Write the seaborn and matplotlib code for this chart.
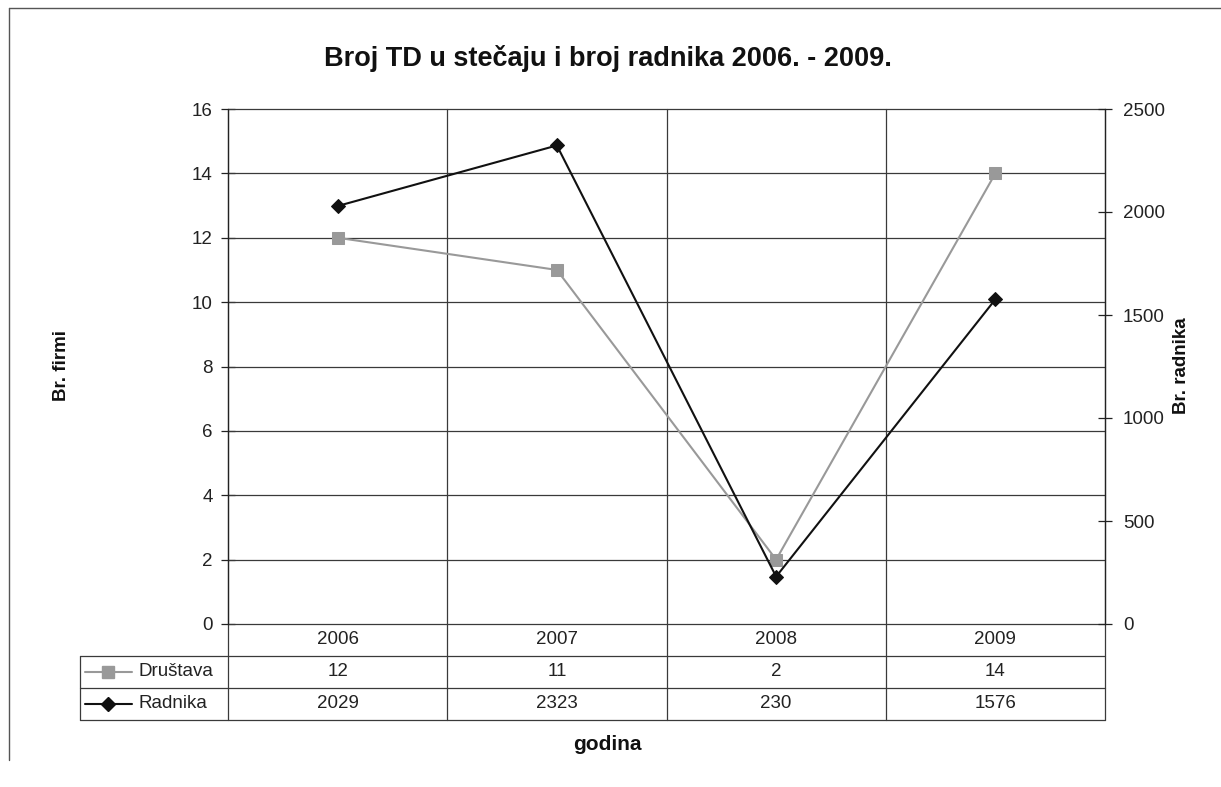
import matplotlib
matplotlib.use("Agg")
import matplotlib.pyplot as plt
from matplotlib.lines import Line2D
import seaborn as sns

# data
years = ["2006", "2007", "2008", "2009"]
drustava = [12, 11, 2, 14]
radnika = [2029, 2323, 230, 1576]
series_names = ["Društava", "Radnika"]

title = "Broj TD u stečaju i broj radnika 2006. - 2009."
left_label = "Br. firmi"
right_label = "Br. radnika"
x_label = "godina"

sns.set_theme(style="white")
plt.rcParams['font.family'] = ['Liberation Sans', 'DejaVu Sans']

W, H = 1221, 787
fig = plt.figure(figsize=(W / 100, H / 100), dpi=100)
fig.patch.set_facecolor("white")

# plot area in pixels
x0, x1, ytop, ybot = 228, 1105, 109, 624
ax = fig.add_axes([x0 / W, 1 - ybot / H, (x1 - x0) / W, (ybot - ytop) / H])
ax2 = ax.twinx()

grid_c = "#3a3a3a"
gray_c = "#999999"
txt_c = "#222222"
fs = 13.5
pos = list(range(len(years)))

sns.lineplot(x=pos, y=drustava, ax=ax, color=gray_c, lw=1.5, marker="s",
             markersize=9, markeredgecolor=gray_c, zorder=5)
sns.lineplot(x=pos, y=radnika, ax=ax2, color="#111111", lw=1.5, marker="D",
             markersize=7.5, markeredgecolor="#111111", zorder=5)

ax.set_xlim(-0.5, len(years) - 0.5)
ax.set_ylim(0, 16)
ax2.set_ylim(0, 2500)
ax.set_yticks(range(0, 17, 2))
ax2.set_yticks(range(0, 2501, 500))
ax.set_xticks([])
ax2.set_xticks([])

# grid
for v in range(0, 17, 2):
    ax.axhline(v, color=grid_c, lw=0.9, zorder=1, clip_on=False)
for b in range(len(years) + 1):
    ax.axvline(b - 0.5, color=grid_c, lw=0.9, zorder=1, clip_on=False)

for a in (ax, ax2):
    for s in a.spines.values():
        s.set_visible(False)
ax.spines["left"].set_visible(True)
ax.spines["left"].set_color(txt_c)
ax.spines["left"].set_linewidth(0.9)
ax2.spines["right"].set_visible(True)
ax2.spines["right"].set_color(txt_c)
ax2.spines["right"].set_linewidth(0.9)

ax.tick_params(axis="y", direction="inout", length=10, width=0.9, color=txt_c,
               labelsize=fs, labelcolor=txt_c, pad=6, left=True)
ax2.tick_params(axis="y", direction="inout", length=10, width=0.9, color=txt_c,
                labelsize=fs, labelcolor=txt_c, pad=8, right=True)

# data table below the plot
tr = ax.transAxes
row_h = 32 / (ybot - ytop)
tab_left = (80 - x0) / (x1 - x0)
line_kw = dict(transform=tr, color=grid_c, lw=0.9, clip_on=False)

# rows: header, Društava, Radnika
for i in range(1, 4):
    y = -i * row_h
    ax.add_line(Line2D([tab_left, 1], [y, y], **line_kw))
ax.add_line(Line2D([tab_left, tab_left], [-row_h, -3 * row_h], **line_kw))
for b in range(len(years) + 1):
    xb = b / len(years)
    ax.add_line(Line2D([xb, xb], [0, -3 * row_h], **line_kw))

for j, yr in enumerate(years):
    xc = (j + 0.5) / len(years)
    ax.text(xc, -0.5 * row_h, yr, transform=tr, ha="center", va="center",
            fontsize=fs, color=txt_c)
    ax.text(xc, -1.5 * row_h, str(drustava[j]), transform=tr, ha="center",
            va="center", fontsize=fs, color=txt_c)
    ax.text(xc, -2.5 * row_h, str(radnika[j]), transform=tr, ha="center",
            va="center", fontsize=fs, color=txt_c)

# legend keys inside the table
px = 1 / (x1 - x0)
for k, (name, col, mk, ms) in enumerate([(series_names[0], gray_c, "s", 9),
                                          (series_names[1], "#111111", "D", 7.5)]):
    y = -(1.5 + k) * row_h
    ax.add_line(Line2D([(85 - x0) * px, (132 - x0) * px], [y, y], transform=tr,
                       color=col, lw=1.5, clip_on=False))
    ax.add_line(Line2D([(108 - x0) * px], [y], transform=tr, color=col, marker=mk,
                       markersize=ms, markeredgecolor=col, clip_on=False))
    ax.text((138 - x0) * px, y, name, transform=tr, ha="left", va="center",
            fontsize=fs, color=txt_c)

# titles and axis labels
fig.text(608 / W, 1 - 58 / H, title, ha="center", va="center", fontsize=19.5,
         fontweight="bold", color="#111111")
fig.text(62 / W, 1 - 366 / H, left_label, ha="center", va="center", rotation=90,
         fontsize=13.5, fontweight="bold", color="#111111")
fig.text(1181 / W, 1 - 366 / H, right_label, ha="center", va="center", rotation=90,
         fontsize=13.5, fontweight="bold", color="#111111")
fig.text(607 / W, 1 - 745 / H, x_label, ha="center", va="center", fontsize=15,
         fontweight="bold", color="#111111")

# outer chart frame (cut at right and bottom)
fig.add_artist(Line2D([9 / W, 9 / W], [1 - 8 / H, 1 - 760 / H], color="#555555", lw=1))
fig.add_artist(Line2D([9 / W, 1], [1 - 8 / H, 1 - 8 / H], color="#555555", lw=1))

fig.savefig("out.png", dpi=100)
